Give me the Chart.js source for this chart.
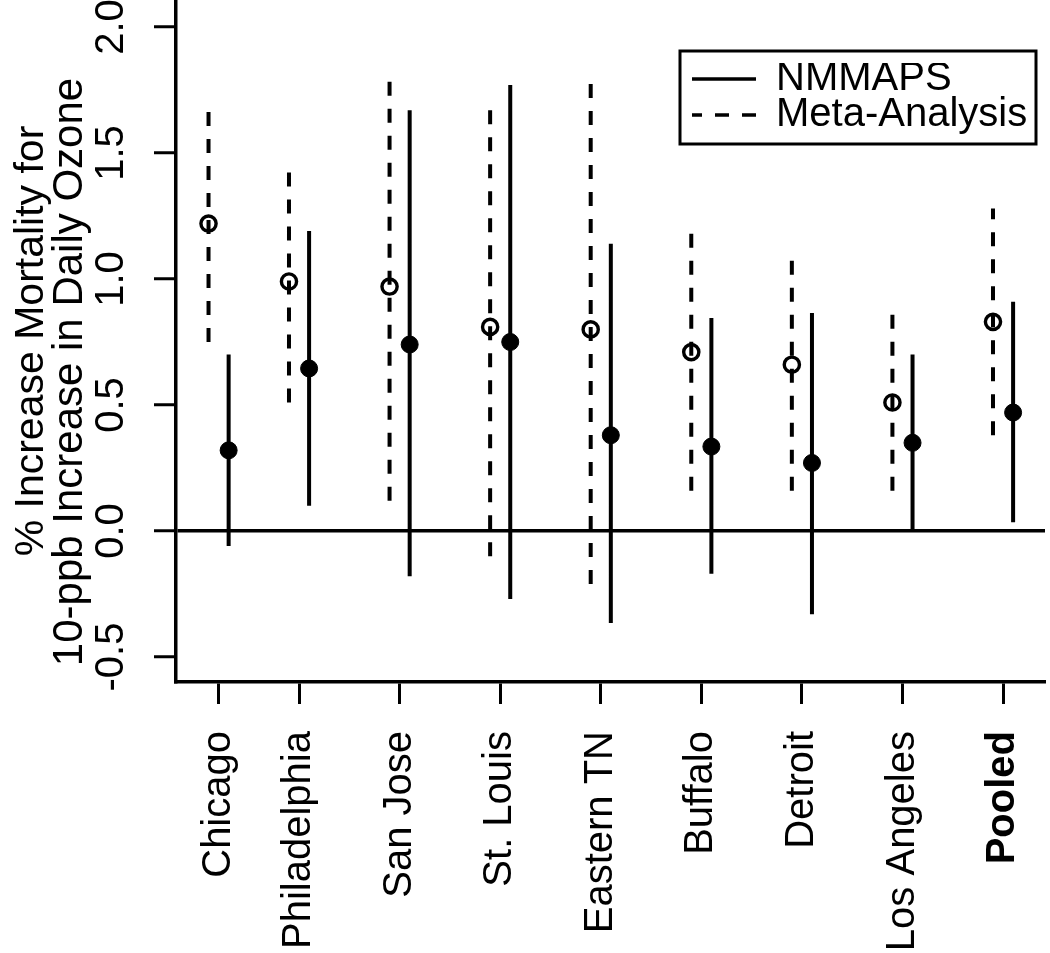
<!DOCTYPE html>
<html>
<head>
<meta charset="utf-8">
<script src="https://cdn.jsdelivr.net/npm/chart.js@4.4.1/dist/chart.umd.min.js"></script>
<style>
html, body { margin: 0; padding: 0; background: #ffffff; overflow: hidden; width: 1050px; height: 953px; }
canvas { display: block; }
</style>
</head>
<body>
<canvas id="c" width="1050" height="953"></canvas>
<script>
// ---- data ----
const categories = ['Chicago', 'Philadelphia', 'San Jose', 'St. Louis', 'Eastern TN', 'Buffalo', 'Detroit', 'Los Angeles', 'Pooled'];
const categoryAt = [1.2, 2, 3, 4, 5, 6, 7, 8, 9];   // axis positions of the categories (like R's at=)
const seriesNames = ['NMMAPS', 'Meta-Analysis'];

const nmmapsEstimate = [0.32, 0.645, 0.74, 0.75, 0.38, 0.335, 0.27, 0.35, 0.47];
const nmmapsLower    = [-0.06, 0.10, -0.18, -0.27, -0.365, -0.17, -0.33, 0.0, 0.035];
const nmmapsUpper    = [0.70, 1.19, 1.67, 1.77, 1.14, 0.845, 0.865, 0.70, 0.91];

const metaEstimate = [1.22, 0.99, 0.97, 0.81, 0.80, 0.71, 0.66, 0.51, 0.83];
const metaLower    = [0.75, 0.51, 0.12, -0.10, -0.21, 0.16, 0.16, 0.16, 0.38];
const metaUpper    = [1.68, 1.44, 1.82, 1.71, 1.80, 1.21, 1.10, 0.86, 1.28];

const yTickValues = [-0.5, 0.0, 0.5, 1.0, 1.5, 2.0];
const yTitleLines = ['% Increase Mortality for', '10-ppb Increase in Daily Ozone'];

// ---- layout / style ----
const FONT = 'Liberation Sans';
const metaOffset = -0.1, nmOffset = 0.1;
const dashPattern = [14, 13];

function intervalPoints(offset, lows, highs) {
  const pts = [];
  categoryAt.forEach((x, i) => {
    pts.push({ x: x + offset, y: lows[i] });
    pts.push({ x: x + offset, y: highs[i] });
    pts.push({ x: x + offset, y: null });
  });
  return pts;
}
function estimatePoints(offset, est) {
  return categoryAt.map((x, i) => ({ x: x + offset, y: est[i] }));
}

// y tick label placement (label centre at x=112)
const mctx = document.createElement('canvas').getContext('2d');
mctx.font = '40px "' + FONT + '"';
const widestY = Math.max(...yTickValues.map(v => mctx.measureText(v.toFixed(1)).width));
const yTickPad = 176 - 22 - widestY / 2 - 112;

function noPadding(s) {
  s.paddingTop = 0; s.paddingBottom = 0; s.paddingLeft = 0; s.paddingRight = 0;
}

const extras = {
  id: 'extras',
  afterLayout(chart) {
    const lg = chart.legend;
    if (!lg) return;
    lg.left = 692; lg.top = 63; lg.width = 360; lg.height = 200;
    lg.right = lg.left + lg.width; lg.bottom = lg.top + lg.height;
  },
  afterDraw(chart) {
    const ctx = chart.ctx;
    ctx.save();
    // legend frame
    ctx.setLineDash([]);
    ctx.lineWidth = 3;
    ctx.strokeStyle = '#000';
    ctx.strokeRect(680, 51, 356, 93);
    // second line of the y-axis title (sits lower than the first one in the reference)
    ctx.translate(70.6, 372);
    ctx.rotate(-Math.PI / 2);
    ctx.fillStyle = '#000';
    ctx.font = '42px "' + FONT + '"';
    ctx.textAlign = 'center';
    ctx.textBaseline = 'middle';
    ctx.fillText(yTitleLines[1], 0, 0);
    ctx.restore();
  }
};

new Chart(document.getElementById('c'), {
  type: 'scatter',
  data: {
    datasets: [
      {
        label: seriesNames[0] + ' estimate',
        data: estimatePoints(nmOffset, nmmapsEstimate),
        showLine: false,
        pointRadius: 8.5, pointBorderWidth: 1,
        pointBackgroundColor: '#000', pointBorderColor: '#000'
      },
      {
        label: seriesNames[1] + ' estimate',
        data: estimatePoints(metaOffset, metaEstimate),
        showLine: false,
        pointRadius: 7.6, pointBorderWidth: 3.4,
        pointBackgroundColor: 'rgba(0,0,0,0)', pointBorderColor: '#000'
      },
      {
        label: seriesNames[0],
        data: intervalPoints(nmOffset, nmmapsLower, nmmapsUpper),
        showLine: true, spanGaps: false,
        borderColor: '#000', borderWidth: 4, borderCapStyle: 'butt',
        pointRadius: 0
      },
      {
        label: seriesNames[1],
        data: intervalPoints(metaOffset, metaLower, metaUpper),
        showLine: true, spanGaps: false,
        borderColor: '#000', borderWidth: 4, borderCapStyle: 'butt', borderDash: dashPattern,
        pointRadius: 0
      }
    ]
  },
  options: {
    responsive: false,
    animation: false,
    events: [],
    devicePixelRatio: 1,
    layout: { autoPadding: false, padding: { left: 0, right: 5, top: 0, bottom: 0 } },
    plugins: {
      tooltip: { enabled: false },
      legend: {
        display: true,
        position: 'chartArea',
        align: 'start',
        labels: {
          usePointStyle: true,
          pointStyleWidth: 68,
          padding: -4,
          color: '#000',
          font: { family: FONT, size: 40 },
          generateLabels: () => seriesNames.map((name, i) => ({
            text: name,
            fillStyle: '#000',
            strokeStyle: '#000',
            fontColor: '#000',
            lineWidth: 3.5,
            lineDash: i === 0 ? [] : dashPattern,
            pointStyle: 'line',
            hidden: false,
            datasetIndex: i + 2
          }))
        }
      }
    },
    scales: {
      x: {
        type: 'linear',
        position: 'bottom',
        min: 0.7766, max: 9.4171,
        afterBuildTicks: s => { s.ticks = categoryAt.map(v => ({ value: v })); },
        afterFit: s => { s.height = 271; noPadding(s); },
        border: { display: true, color: '#000', width: 3.5 },
        grid: { drawOnChartArea: false, drawTicks: true, tickLength: 22, tickWidth: 3, tickColor: '#000' },
        ticks: {
          autoSkip: false,
          minRotation: 90, maxRotation: 90,
          padding: 27,
          color: '#000',
          font: c => ({ family: FONT, size: 40, weight: c.index === 8 ? 'bold' : 'normal' }),
          callback: (v, i) => categories[i]
        }
      },
      y: {
        type: 'linear',
        position: 'left',
        min: -0.5992, max: 2.1071,
        afterBuildTicks: s => { s.ticks = yTickValues.map(v => ({ value: v })); },
        afterFit: s => { s.width = 176; noPadding(s); },
        border: { display: true, color: '#000', width: 3.5 },
        grid: {
          drawOnChartArea: true, drawTicks: true, tickLength: 22, tickWidth: 3, tickColor: '#000',
          lineWidth: 3.5,
          color: c => (c.tick && c.tick.value === 0) ? '#000' : 'rgba(0,0,0,0)'
        },
        ticks: {
          autoSkip: false,
          minRotation: 90, maxRotation: 90,
          crossAlign: 'center',
          padding: yTickPad,
          color: '#000',
          font: { family: FONT, size: 40 },
          callback: v => Number(v).toFixed(1)
        },
        title: {
          display: true,
          text: yTitleLines[0],
          color: '#000',
          font: { family: FONT, size: 41, lineHeight: '39px' },
          padding: { top: 12, bottom: 0 }
        }
      }
    }
  },
  plugins: [extras]
});
</script>
</body>
</html>
